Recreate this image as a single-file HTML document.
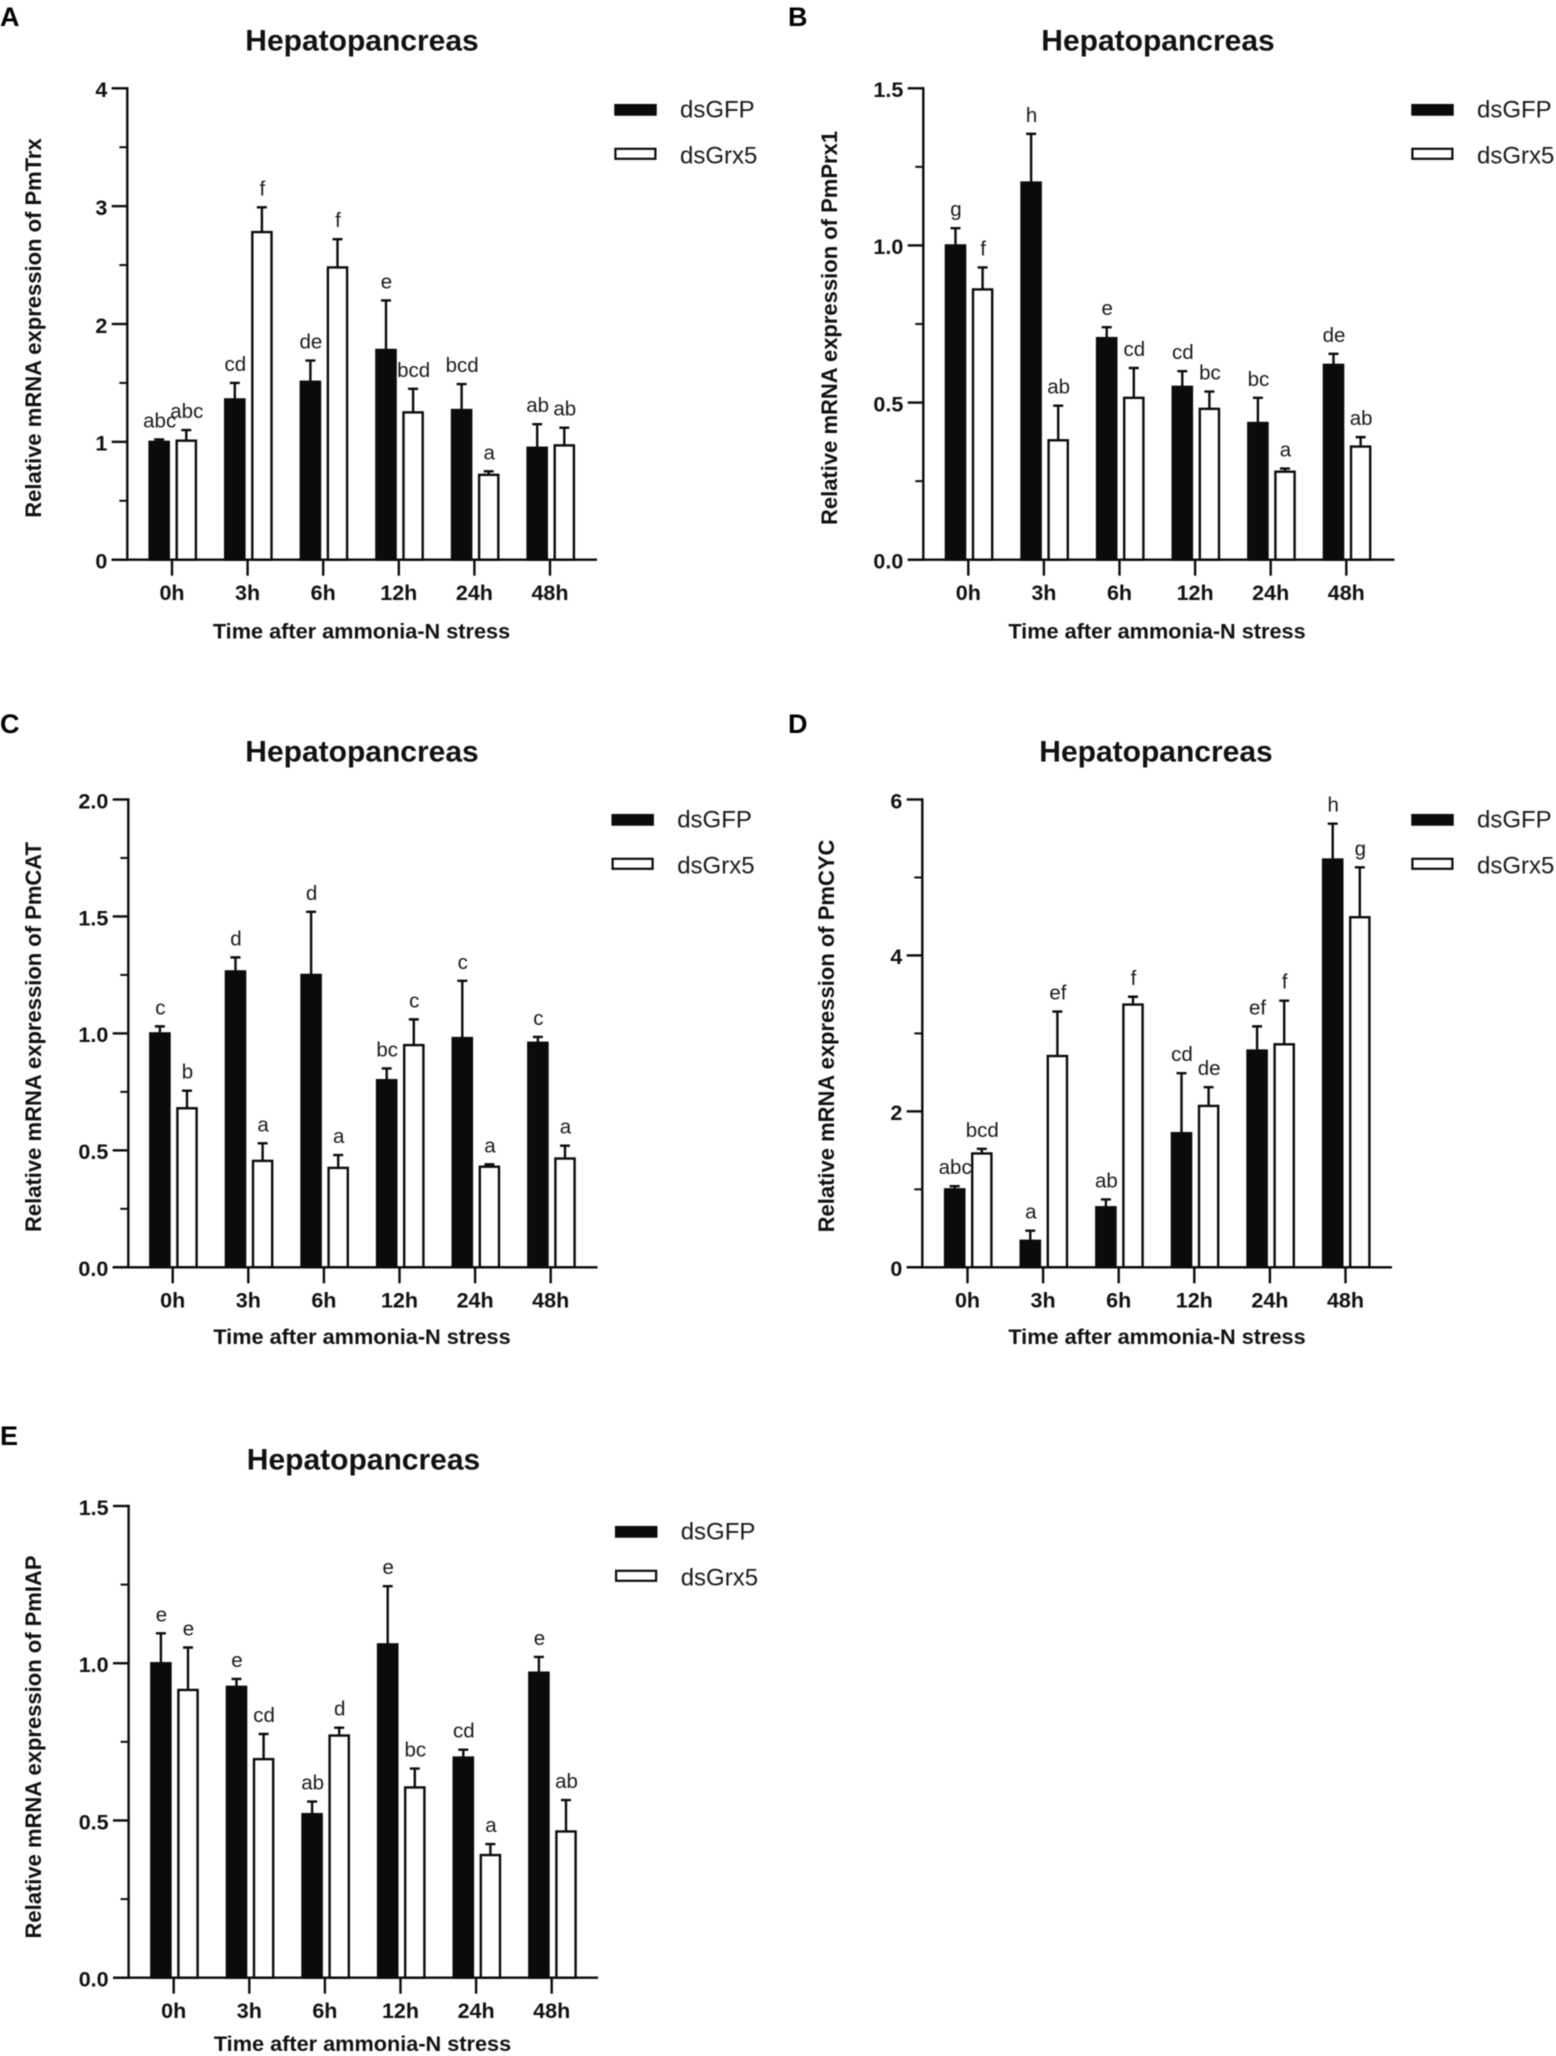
<!DOCTYPE html>
<html lang="en">
<head>
<meta charset="utf-8">
<title>Hepatopancreas mRNA expression panels</title>
<style>
html,body{margin:0;padding:0;background:#fff;}
#figure{display:block;width:1556px;height:2056px;background:#fff;font-family:"Liberation Sans",Arial,sans-serif;filter:blur(0.4px);}
</style>
</head>
<body>
<svg id="figure" xmlns="http://www.w3.org/2000/svg" width="1556" height="2056" viewBox="0 0 1556 2056"></svg>
<script>
const categories = ['0h','3h','6h','12h','24h','48h'];

const ticksA = [0,1,2,3,4];
const tickLabelsA = ['0','1','2','3','4'];
const gfpA = [1.0,1.36,1.51,1.78,1.27,0.95];
const gfpTopA = [1.02,1.5,1.69,2.2,1.49,1.15];
const grxA = [1.01,2.78,2.48,1.25,0.72,0.97];
const grxTopA = [1.1,2.99,2.72,1.45,0.75,1.12];
const gfpLettersA = ['abc','cd','de','e','bcd','ab'];
const grxLettersA = ['abc','f','f','bcd','a','ab'];

const ticksB = [0,0.5,1,1.5];
const tickLabelsB = ['0.0','0.5','1.0','1.5'];
const gfpB = [1.0,1.2,0.705,0.55,0.435,0.62];
const gfpTopB = [1.055,1.355,0.74,0.6,0.515,0.655];
const grxB = [0.86,0.38,0.515,0.48,0.28,0.36];
const grxTopB = [0.93,0.49,0.61,0.535,0.29,0.39];
const gfpLettersB = ['g','h','e','cd','bc','de'];
const grxLettersB = ['f','ab','cd','bc','a','ab'];

const ticksC = [0,0.5,1,1.5,2];
const tickLabelsC = ['0.0','0.5','1.0','1.5','2.0'];
const gfpC = [1.0,1.265,1.25,0.8,0.98,0.96];
const gfpTopC = [1.03,1.325,1.52,0.85,1.225,0.985];
const grxC = [0.68,0.455,0.425,0.95,0.43,0.465];
const grxTopC = [0.755,0.53,0.48,1.06,0.44,0.52];
const gfpLettersC = ['c','d','d','bc','c','c'];
const grxLettersC = ['b','a','a','c','a','a'];

const ticksD = [0,2,4,6];
const tickLabelsD = ['0','2','4','6'];
const gfpD = [1.0,0.34,0.77,1.72,2.78,5.23];
const gfpTopD = [1.04,0.47,0.87,2.49,3.09,5.69];
const grxD = [1.46,2.71,3.37,2.07,2.86,4.49];
const grxTopD = [1.52,3.28,3.47,2.31,3.42,5.13];
const gfpLettersD = ['abc','a','ab','cd','ef','h'];
const grxLettersD = ['bcd','ef','f','de','f','g'];

const ticksE = [0,0.5,1,1.5];
const tickLabelsE = ['0.0','0.5','1.0','1.5'];
const gfpE = [1.0,0.925,0.52,1.06,0.70,0.97];
const gfpTopE = [1.095,0.95,0.56,1.245,0.725,1.02];
const grxE = [0.915,0.695,0.77,0.605,0.39,0.465];
const grxTopE = [1.05,0.775,0.795,0.665,0.425,0.565];
const gfpLettersE = ['e','e','ab','e','cd','e'];
const grxLettersE = ['e','cd','d','bc','a','ab'];

const NS = 'http://www.w3.org/2000/svg';
const root = document.getElementById('figure');
const INK = '#0a0c0c';

function make(parent, tag, attrs, content) {
  const node = document.createElementNS(NS, tag);
  for (const k in attrs) node.setAttribute(k, attrs[k]);
  if (content !== undefined) node.textContent = content;
  parent.appendChild(node);
  return node;
}

function drawPanel(p) {
  const g = make(root, 'g', {});
  
  

  const maxTick = p.ticks[p.ticks.length - 1];
  const yScale = v => p.bottom - (v / maxTick) * (p.bottom - p.top);
  const xScale = i => p.x0 + i * p.step;

  const letter = make(g, 'text', {x: p.letterX, y: p.letterY, 'font-size': 27, 'font-weight': 700, fill: '#000'}, p.letter);
  
  

  const title = make(g, 'text', {x: p.titleX, y: p.titleY, 'font-size': 30, 'font-weight': 700, fill: '#111', 'text-anchor': 'middle'}, 'Hepatopancreas');
  
  

  // bars and error bars
  categories.forEach((cat, i) => {
    const cx = xScale(i);
    const series = [
      {key:'dsgfp', v:p.gfp[i], t:p.gfpTop[i], l:p.gfpLetters[i], bx:cx-12.8, fill:INK},
      {key:'dsgrx5', v:p.grx[i], t:p.grxTop[i], l:p.grxLetters[i], bx:cx+14.3, fill:'#fff'}
    ];
    series.forEach(s => {
      const yv = yScale(s.v), yt = yScale(s.t);
      const err = make(g, 'path', {d:`M${s.bx} ${yv}V${yt}M${s.bx-5} ${yt}H${s.bx+5}`, stroke:INK, 'stroke-width':2.4, fill:'none'});
      
      
      const bar = make(g, 'rect', {x:s.bx-9.6, y:yv, width:19.2, height:p.bottom-yv, fill:s.fill, stroke:INK, 'stroke-width':2.4});
      
      
      const sig = make(g, 'text', {x:s.bx+0.5, y:yt-12, 'font-size':20.5, fill:'#1a1a1a', 'text-anchor':'middle'}, s.l);
      
      
    });
  });

  // y axis with major and midpoint minor ticks
  const yAxis = make(g, 'line', {x1:p.axisX, x2:p.axisX, y1:p.top-1.2, y2:p.bottom+1.2, stroke:INK, 'stroke-width':2.4});
  
  
  p.ticks.forEach((t, i) => {
    const y = yScale(t);
    const tick = make(g, 'line', {x1:p.axisX-15.6, x2:p.axisX, y1:y, y2:y, stroke:INK, 'stroke-width':2.4});
    
    
    const lab = make(g, 'text', {x:p.axisX-20, y:y+8.8, 'font-size':21.5, 'font-weight':700, fill:'#111', 'text-anchor':'end'}, p.tickLabels[i]);
    
    
    if (i < p.ticks.length - 1) {
      const ym = yScale((t + p.ticks[i+1]) / 2);
      const minor = make(g, 'line', {x1:p.axisX-8, x2:p.axisX, y1:ym, y2:ym, stroke:INK, 'stroke-width':2});
      
      
    }
  });

  // x axis
  const xAxis = make(g, 'line', {x1:p.axisX-15.6, x2:p.xEnd, y1:p.bottom, y2:p.bottom, stroke:INK, 'stroke-width':2.4});
  
  
  categories.forEach((cat, i) => {
    const x = xScale(i);
    const tick = make(g, 'line', {x1:x, x2:x, y1:p.bottom, y2:p.bottom+16, stroke:INK, 'stroke-width':2.4});
    
    
    const lab = make(g, 'text', {x:x, y:p.bottom+40.3, 'font-size':21.5, 'font-weight':700, fill:'#111', 'text-anchor':'middle'}, cat);
    
    
  });

  const xTitle = make(g, 'text', {x:p.xTitleX, y:p.bottom+p.xTitleDy, 'font-size':21.7, 'font-weight':700, fill:'#111', 'text-anchor':'middle'}, 'Time after ammonia-N stress');
  
  

  const yTitle = make(g, 'text', {transform:`translate(${p.yTitleX},${p.yTitleY}) rotate(-90)`, 'font-size':22, 'font-weight':700, fill:'#111', 'text-anchor':'middle'}, 'Relative mRNA expression of ' + p.gene);
  
  

  // legend
  const swatch1 = make(g, 'rect', {x:p.legendX+0.7, y:p.legendY+0.7, width:41, height:10.3, fill:INK, stroke:INK, 'stroke-width':1.5});
  
  
  const text1 = make(g, 'text', {x:p.legendX+65.7, y:p.legendY+13.7, 'font-size':24, fill:'#1a1a1a'}, 'dsGFP');
  
  
  const swatch2 = make(g, 'rect', {x:p.legendX+1.1, y:p.legendY+44.8, width:40, height:10, fill:'#fff', stroke:INK, 'stroke-width':2.2});
  
  
  const text2 = make(g, 'text', {x:p.legendX+65.7, y:p.legendY+59.3, 'font-size':24, fill:'#1a1a1a'}, 'dsGrx5');
  
  
}

drawPanel({letter:'A', gene:'PmTrx', letterX:0, letterY:26, axisX:127.3, top:88.3, bottom:559.7, xEnd:597, x0:172, step:75.6, titleX:362, titleY:50.6, xTitleX:361.5, xTitleDy:78.7, yTitleX:41, yTitleY:328, legendX:614.3, legendY:104,
  ticks:ticksA, tickLabels:tickLabelsA, gfp:gfpA, gfpTop:gfpTopA, grx:grxA, grxTop:grxTopA, gfpLetters:gfpLettersA, grxLetters:grxLettersA});
drawPanel({letter:'B', gene:'PmPrx1', letterX:788, letterY:26, axisX:923.3, top:88.3, bottom:559.7, xEnd:1394.4, x0:968.3, step:75.6, titleX:1158, titleY:50.6, xTitleX:1157, xTitleDy:78.7, yTitleX:837, yTitleY:328, legendX:1411.3, legendY:104,
  ticks:ticksB, tickLabels:tickLabelsB, gfp:gfpB, gfpTop:gfpTopB, grx:grxB, grxTop:grxTopB, gfpLetters:gfpLettersB, grxLetters:grxLettersB});
drawPanel({letter:'C', gene:'PmCAT', letterX:0, letterY:733, axisX:128.3, top:799.5, bottom:1267.3, xEnd:597.5, x0:172.7, step:75.6, titleX:362, titleY:761.5, xTitleX:362, xTitleDy:76.5, yTitleX:41, yTitleY:1037, legendX:611.5, legendY:814,
  ticks:ticksC, tickLabels:tickLabelsC, gfp:gfpC, gfpTop:gfpTopC, grx:grxC, grxTop:grxTopC, gfpLetters:gfpLettersC, grxLetters:grxLettersC});
drawPanel({letter:'D', gene:'PmCYC', letterX:788, letterY:733, axisX:922.3, top:799.5, bottom:1267.3, xEnd:1392, x0:967.5, step:75.6, titleX:1156, titleY:761.5, xTitleX:1157, xTitleDy:76.5, yTitleX:834, yTitleY:1036, legendX:1411.3, legendY:814,
  ticks:ticksD, tickLabels:tickLabelsD, gfp:gfpD, gfpTop:gfpTopD, grx:grxD, grxTop:grxTopD, gfpLetters:gfpLettersD, grxLetters:grxLettersD});
drawPanel({letter:'E', gene:'PmIAP', letterX:0, letterY:1445, axisX:128.6, top:1506, bottom:1977.7, xEnd:598, x0:173.7, step:75.6, titleX:363.5, titleY:1469.5, xTitleX:362.5, xTitleDy:73.5, yTitleX:41, yTitleY:1747, legendX:615, legendY:1526,
  ticks:ticksE, tickLabels:tickLabelsE, gfp:gfpE, gfpTop:gfpTopE, grx:grxE, grxTop:grxTopE, gfpLetters:gfpLettersE, grxLetters:grxLettersE});
</script>
</body>
</html>
